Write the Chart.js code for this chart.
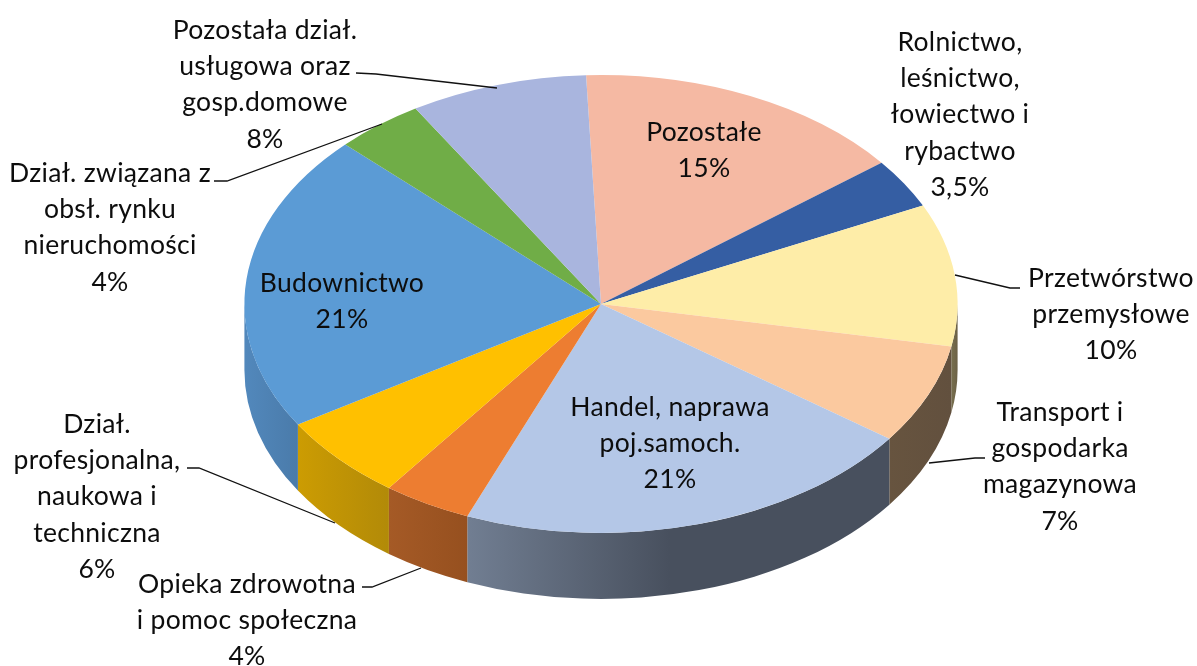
<!DOCTYPE html>
<html lang="pl">
<head>
<meta charset="utf-8">
<style>html,body{margin:0;padding:0;background:#fff}canvas{display:block}</style>
<script src="https://cdn.jsdelivr.net/npm/chart.js@4"></script>
</head>
<body>
<canvas id="c" width="1197" height="666"></canvas>
<script>
const categories = ["Pozostałe","Rolnictwo, leśnictwo, łowiectwo i rybactwo","Przetwórstwo przemysłowe","Transport i gospodarka magazynowa","Handel, naprawa poj.samoch.","Opieka zdrowotna i pomoc społeczna","Dział. profesjonalna, naukowa i techniczna","Budownictwo","Dział. związana z obsł. rynku nieruchomości","Pozostała dział. usługowa oraz gosp.domowe"];
const shares = [15,3.5,10,7,21,4,6,21,4,8];
const shareText = ["15%","3,5%","10%","7%","21%","4%","6%","21%","4%","8%"];
const topColors = ["#F5B9A3","#355EA3","#FEEDA8","#FBC99F","#B4C7E7","#ED7D31","#FFC000","#5B9BD5","#70AD47","#A9B5DE"];
const sideColors = [["#a5806f","#a5806f"],["#24406f","#24406f"],["#78704e","#6b6046"],["#67543F","#62503E"],["#717E92","#48505E"],["#A55A26","#96501F"],["#CC9C02","#B28A08"],["#5288BC","#4A7BAA"],["#4d7731","#4d7731"],["#747d99","#747d99"]];

const labelLines = [
  ["Pozostałe"],
  ["Rolnictwo,","leśnictwo,","łowiectwo i","rybactwo"],
  ["Przetwórstwo","przemysłowe"],
  ["Transport i","gospodarka","magazynowa"],
  ["Handel, naprawa","poj.samoch."],
  ["Opieka zdrowotna","i pomoc społeczna"],
  ["Dział.","profesjonalna,","naukowa i","techniczna"],
  ["Budownictwo"],
  ["Dział. związana z","obsł. rynku","nieruchomości"],
  ["Pozostała dział.","usługowa oraz","gosp.domowe"]
];
const labelAnchors = [[704,141],[960,51],[1111,287],[1060,421],[670,416],[247,593],[97,433],[342,292],[110,182],[265,39]];
const leaders = [null,null,[[955,275],[1010,288],[1020,288]],[[929,463],[975,458],[985,458]],null,[[362,587],[372,587],[421,568]],[[187,468],[199,468],[335,523]],null,[[214,181],[227,181],[382,124]],[[356,73],[376,74],[497,88]]];

const SCALE_X = 1.173, SCALE_Y = 0.753, DEPTH = 66, LINE_H = 36.2;
const FONT = '26.5px Lato, "Open Sans", sans-serif';

function sideSpans(a, b) {
  const spans = [], tau = Math.PI * 2;
  for (let k = -1; k <= 1; k++) {
    const s = Math.max(a, k * tau), e = Math.min(b, k * tau + Math.PI);
    if (e > s) spans.push([s, e]);
  }
  return spans;
}

const pie3d = {
  id: 'pie3d',
  beforeDatasetsDraw(chart) {
    const ctx = chart.ctx, arcs = chart.getDatasetMeta(0).data;
    arcs.forEach((arc, i) => {
      const rx = arc.outerRadius * SCALE_X, ry = arc.outerRadius * SCALE_Y;
      sideSpans(arc.startAngle, arc.endAngle).forEach(([s, e]) => {
        const x0 = arc.x + rx * Math.cos(s), x1 = arc.x + rx * Math.cos(e);
        const w = Math.abs(x1 - x0);
        const g = ctx.createLinearGradient(Math.min(x0, x1), 0, Math.max(x0, x1), 0);
        const [c0, c1] = sideColors[i];
        g.addColorStop(0, c0); g.addColorStop(w > 300 ? 0.48 : 1, c1);
        if (w > 300) g.addColorStop(1, c1);
        ctx.beginPath();
        ctx.ellipse(arc.x, arc.y, rx, ry, 0, s, e);
        ctx.ellipse(arc.x, arc.y + DEPTH, rx, ry, 0, e, s, true);
        ctx.closePath();
        ctx.fillStyle = g;
        ctx.fill();
      });
    });
    const a0 = arcs[0];
    ctx.save();
    ctx.translate(a0.x, a0.y);
    ctx.scale(SCALE_X, SCALE_Y);
    ctx.translate(-a0.x, -a0.y);
  },
  afterDatasetsDraw(chart) {
    const ctx = chart.ctx;
    ctx.restore();
    ctx.save();
    ctx.strokeStyle = '#111';
    ctx.lineWidth = 1.3;
    leaders.forEach(pts => {
      if (!pts) return;
      ctx.beginPath();
      pts.forEach((p, i) => i ? ctx.lineTo(p[0], p[1]) : ctx.moveTo(p[0], p[1]));
      ctx.stroke();
    });
    ctx.font = FONT;
    ctx.letterSpacing = '0.3px';
    ctx.fillStyle = '#0d0d0d';
    ctx.textAlign = 'center';
    ctx.textBaseline = 'alphabetic';
    labelLines.forEach((lines, i) => {
      const [x, y] = labelAnchors[i];
      lines.concat(shareText[i]).forEach((t, j) => ctx.fillText(t, x, y + j * LINE_H));
    });
    ctx.restore();
  }
};

new Chart(document.getElementById('c'), {
  type: 'pie',
  data: {
    labels: categories,
    datasets: [{ data: shares, backgroundColor: topColors, borderWidth: 0, clip: false, rotation: -2.4 }]
  },
  options: {
    responsive: false,
    animation: false,
    events: [],
    layout: { padding: { left: 5, bottom: 58 } },
    plugins: { legend: { display: false }, tooltip: { enabled: false }, title: { display: false } }
  },
  plugins: [pie3d]
});
</script>
</body>
</html>
